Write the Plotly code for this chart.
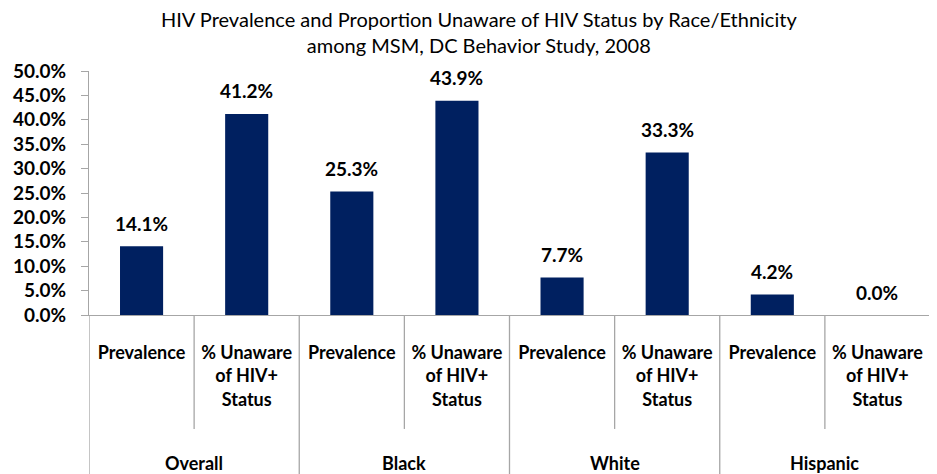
import plotly.graph_objects as go

# data
groups = ["Overall", "Black", "White", "Hispanic"]
measures = ["Prevalence", "% Unaware<br>of HIV+<br>Status"]
values = [14.1, 41.2, 25.3, 43.9, 7.7, 33.3, 4.2, 0.0]
y_ticks = [0, 5, 10, 15, 20, 25, 30, 35, 40, 45, 50]

keys = [f"{g}|{m}" for g in groups for m in measures]
labels = [m for g in groups for m in measures]

NAVY = "#002060"
GRID = "#a6a6a6"
FONT = "Lato, Carlito, 'Open Sans', sans-serif"

fig = go.Figure()
fig.add_trace(go.Bar(
    x=keys, y=values, width=0.41,
    marker=dict(color=NAVY, line=dict(width=0)),
    hoverinfo="skip",
))

# value labels above the bars
for k, v in zip(keys, values):
    fig.add_annotation(
        x=k, y=v, text=f"<b>{v:.1f}%</b>", showarrow=False,
        yanchor="middle", yshift=23,
        font=dict(family=FONT, size=19, color="black"),
    )

# separators between categories (left edge included, right edge falls off the picture)
n = len(keys)
for i in range(0, n):
    outer = i % len(measures) == 0
    fig.add_shape(
        type="line", xref="x", yref="paper",
        x0=i - 0.5, x1=i - 0.5, y0=0, y1=-0.75 if outer else -0.467,
        line=dict(color=GRID, width=1.3),
    )

# group labels
for gi, g in enumerate(groups):
    fig.add_annotation(
        x=gi * len(measures) + (len(measures) - 1) / 2, y=-0.607,
        xref="x", yref="paper", text=f"<b>{g}</b>", showarrow=False,
        yanchor="middle", font=dict(family=FONT, size=18, color="black"),
    )

# title
fig.add_annotation(
    text="HIV Prevalence and Proportion Unaware of HIV Status by Race/Ethnicity<br>among MSM, DC Behavior Study, 2008",
    xref="paper", yref="paper", x=0.464, y=1.16, xanchor="center", yanchor="middle",
    showarrow=False, font=dict(family=FONT, size=20, color="black"),
)

fig.update_layout(
    width=937, height=474,
    margin=dict(l=81, r=15, t=63, b=167),
    plot_bgcolor="white", paper_bgcolor="white",
    showlegend=False, bargap=0.6,
)
fig.update_xaxes(
    tickvals=keys, ticktext=[f"<b>{t}</b>" for t in labels],
    range=[-0.5, n - 0.5], showgrid=False, showline=True, linecolor=GRID, linewidth=1.3,
    ticks="", ticklabelstandoff=21, automargin=False,
    tickfont=dict(family=FONT, size=18, color="black"),
)
fig.update_yaxes(
    range=[0, 50], tickvals=y_ticks, ticktext=[f"<b>{t:.1f}%</b>" for t in y_ticks],
    showgrid=False, zeroline=False, showline=True, linecolor=GRID, linewidth=1.3,
    ticks="outside", ticklen=7, tickcolor=GRID, ticklabelstandoff=11, automargin=False,
    tickfont=dict(family=FONT, size=19, color="black"),
)

fig.write_html("out.html")
